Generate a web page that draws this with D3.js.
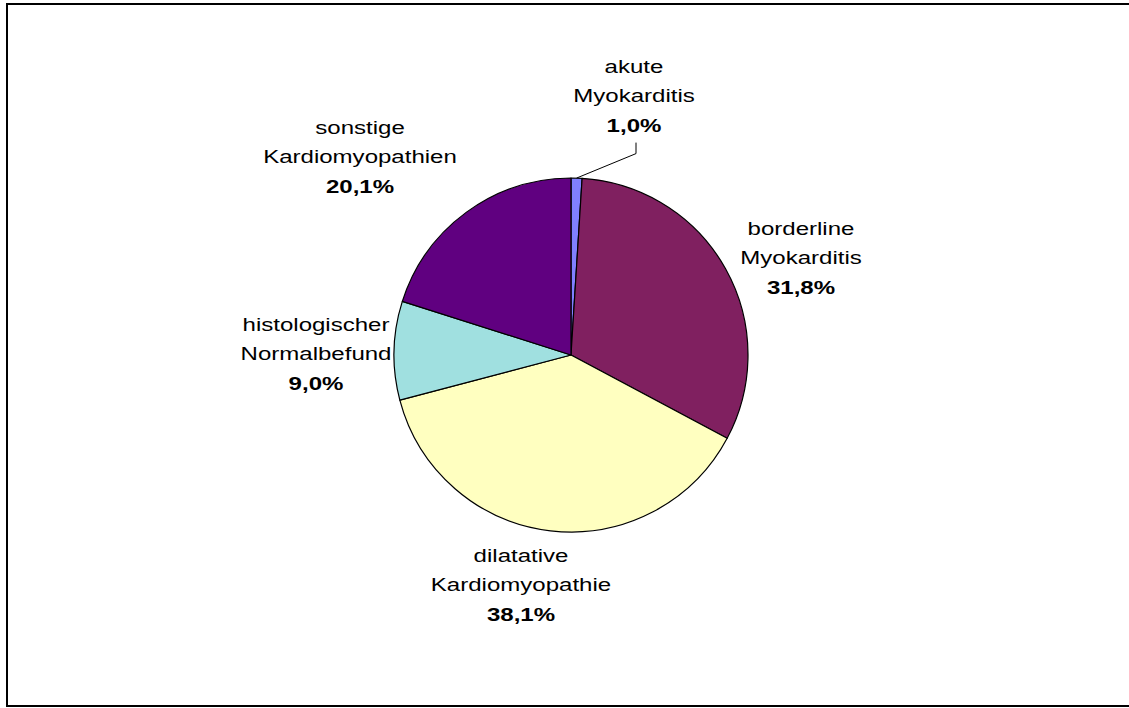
<!DOCTYPE html>
<html>
<head>
<meta charset="utf-8">
<script src="https://cdn.jsdelivr.net/npm/d3@7"></script>
<style>
  html, body { margin: 0; padding: 0; background: #ffffff; }
  svg { display: block; }
  text { font-family: "Liberation Sans", Arial, sans-serif; fill: #000; }
</style>
</head>
<body>
<svg id="chart" width="1129" height="708"></svg>
<script>
// Diagnoses (clockwise from 12 o'clock) and their shares in percent
const categories = [
  "akute Myokarditis",
  "borderline Myokarditis",
  "dilatative Kardiomyopathie",
  "histologischer Normalbefund",
  "sonstige Kardiomyopathien"
];
const labelLines = [
  ["akute", "Myokarditis"],
  ["borderline", "Myokarditis"],
  ["dilatative", "Kardiomyopathie"],
  ["histologischer", "Normalbefund"],
  ["sonstige", "Kardiomyopathien"]
];
const values = [1.0, 31.8, 38.1, 9.0, 20.1];
const colors = ["#8080ff", "#802060", "#ffffc0", "#a0e0e0", "#600080"];

// Label anchors: centre x and first baseline y
const labelAnchors = [
  [634, 73],
  [801, 235],
  [521, 562],
  [316, 331],
  [360, 134]
];

const svg = d3.select("#chart");
const cx = 571, cy = 355, radius = 177;
const lineStep = 29.3;
const stretch = 1.3;

// Chart frame
svg.append("rect")
  .attr("x", 7).attr("y", 4)
  .attr("width", 1140).attr("height", 702)
  .attr("fill", "none")
  .attr("stroke", "#000")
  .attr("stroke-width", 2);

const data = categories.map((c, i) => ({
  name: c, value: values[i], color: colors[i], lines: labelLines[i], anchor: labelAnchors[i]
}));

const pie = d3.pie().value(d => d.value).sort(null);
const arc = d3.arc().innerRadius(0).outerRadius(radius);
const arcs = pie(data);

const g = svg.append("g").attr("transform", `translate(${cx},${cy})`);
g.selectAll("path.slice")
  .data(arcs)
  .join("path")
  .attr("class", "slice")
  .attr("d", arc)
  .attr("fill", d => d.data.color)
  .attr("stroke", "#000")
  .attr("stroke-width", 1.2)
  .attr("stroke-linejoin", "round");

const fmt = v => d3.format(".1f")(v).replace(".", ",") + "%";

// Labels
const labels = svg.selectAll("g.label")
  .data(arcs)
  .join("g")
  .attr("class", "label");

labels.each(function (d) {
  const [lx, ly] = d.data.anchor;
  const sel = d3.select(this);
  d.data.lines.forEach((t, k) => {
    sel.append("text")
      .attr("transform", `translate(${lx},${ly + k * lineStep}) scale(${stretch},1)`)
      .attr("text-anchor", "middle")
      .attr("font-size", 18.5)
      .text(t);
  });
  sel.append("text")
    .attr("transform", `translate(${lx},${ly + 2 * lineStep}) scale(${stretch},1)`)
    .attr("text-anchor", "middle")
    .attr("font-size", 18.5)
    .attr("font-weight", "bold")
    .text(fmt(d.data.value));
});

// Leader line for the narrow slice
const small = arcs[0];
const mid = (small.startAngle + small.endAngle) / 2;
const sx = cx + radius * Math.sin(mid);
const sy = cy - radius * Math.cos(mid);
const [ax, ay] = small.data.anchor;
const ex = ax + 2, elbowY = ay + 2 * lineStep + 22, topY = ay + 2 * lineStep + 11;
svg.append("polyline")
  .attr("points", [[sx, sy], [ex, elbowY], [ex, topY]].map(p => p.join(",")).join(" "))
  .attr("fill", "none")
  .attr("stroke", "#000")
  .attr("stroke-width", 1);
</script>
</body>
</html>
